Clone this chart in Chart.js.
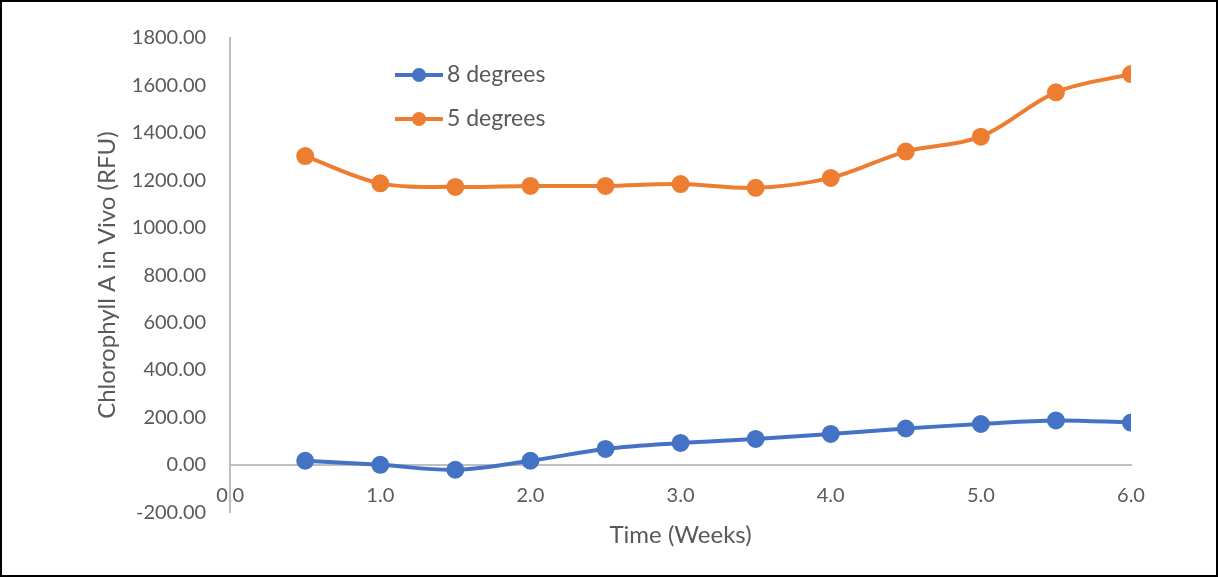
<!DOCTYPE html>
<html>
<head>
<meta charset="utf-8">
<script src="https://cdn.jsdelivr.net/npm/chart.js@4"></script>
<style>
  body { margin: 0; background: #fff; }
  #marco { width: 1214px; height: 573px; border: 2px solid #000; position: relative; }
</style>
</head>
<body>
<div id="marco"><canvas id="grafico" width="1214" height="573"></canvas></div>
<script>
// datos
const semanas = [0.5, 1.0, 1.5, 2.0, 2.5, 3.0, 3.5, 4.0, 4.5, 5.0, 5.5, 6.0];
const grados8 = [17, 0, -21, 17, 67, 92, 109, 130, 153, 172, 187, 178];
const grados5 = [1302, 1187, 1172, 1176, 1176, 1184, 1168, 1210, 1321, 1384, 1571, 1648];
const etiquetas = ['8 degrees', '5 degrees'];
const colores = ['#4472C4', '#ED7D31'];

const fuente = 'Lato, "Open Sans", sans-serif';
const gris = '#595959';

function armarSerie(valores, i) {
    return {
        label: etiquetas[i],
        data: semanas.map((x, k) => ({ x: x, y: valores[k] })),
        borderColor: colores[i],
        backgroundColor: colores[i],
        borderWidth: 4,
        pointRadius: 7,
        pointHoverRadius: 7,
        tension: 0.35,
        fill: false
    };
}

// leyenda dentro del area del grafico, como en excel
const leyendaInterna = {
    id: 'leyendaInterna',
    afterDraw(chart) {
        const ctx = chart.ctx;
        const x0 = 393, y0 = 73, salto = 44;
        chart.data.datasets.forEach((ds, i) => {
            const y = y0 + i * salto;
            ctx.save();
            ctx.strokeStyle = ds.borderColor;
            ctx.lineWidth = 4;
            ctx.beginPath();
            ctx.moveTo(x0, y);
            ctx.lineTo(x0 + 48, y);
            ctx.stroke();
            ctx.fillStyle = ds.borderColor;
            ctx.beginPath();
            ctx.arc(x0 + 24, y, 7, 0, Math.PI * 2);
            ctx.fill();
            ctx.fillStyle = gris;
            ctx.font = '23px ' + fuente;
            ctx.textBaseline = 'middle';
            ctx.fillText(ds.label, x0 + 52, y);
            ctx.restore();
        });
    }
};

const ctx = document.getElementById('grafico').getContext('2d');
const grafico = new Chart(ctx, {
    type: 'line',
    data: {
        datasets: [armarSerie(grados8, 0), armarSerie(grados5, 1)]
    },
    options: {
        responsive: false,
        animation: false,
        layout: { padding: { left: 91, right: 85, top: 20, bottom: 0 } },
        plugins: {
            legend: { display: false },
            tooltip: { enabled: false },
            // titulo del eje x abajo, centrado sobre el area del grafico
            title: {
                display: true,
                position: 'bottom',
                fullSize: false,
                text: 'Time (Weeks)',
                color: gris,
                font: { family: fuente, size: 24, weight: 'normal' },
                padding: { top: 9, bottom: 25 }
            }
        },
        scales: {
            x: {
                type: 'linear',
                min: 0,
                max: 6,
                position: { y: 0 },
                afterFit: escala => { escala.height = 0; },
                grid: { display: false, drawTicks: false },
                border: { display: true, color: '#bfbfbf', width: 2 },
                ticks: {
                    stepSize: 1,
                    padding: 19,
                    color: gris,
                    font: { family: fuente, size: 20 },
                    callback: v => v.toFixed(1)
                }
            },
            y: {
                min: -200,
                max: 1800,
                grid: { display: false, drawTicks: false },
                border: { display: true, color: '#bfbfbf', width: 2 },
                ticks: {
                    stepSize: 200,
                    padding: 24,
                    color: gris,
                    font: { family: fuente, size: 20 },
                    callback: v => v.toFixed(2)
                },
                title: {
                    display: true,
                    text: 'Chlorophyll A in Vivo (RFU)',
                    color: gris,
                    font: { family: fuente, size: 24 },
                    padding: { top: 0, bottom: -14 }
                }
            }
        }
    },
    plugins: [leyendaInterna]
});
</script>
</body>
</html>
